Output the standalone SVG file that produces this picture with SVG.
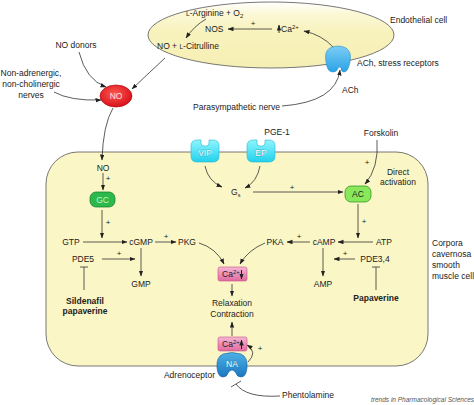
<svg xmlns="http://www.w3.org/2000/svg" width="474" height="405" viewBox="0 0 474 405">
<defs>
<style>
text{font-family:"Liberation Sans",Arial,sans-serif;font-size:8.5px;fill:#222}
.c{text-anchor:middle}
.r{text-anchor:end}
.b{font-weight:bold}
.p{font-size:8px;text-anchor:middle}
.ln{fill:none;stroke:#333;stroke-width:0.8}
.ar{marker-end:url(#ah)}
.w{fill:#fff;stroke:#0b7f98;stroke-width:0.35;paint-order:stroke}
</style>
<marker id="ah" markerUnits="userSpaceOnUse" markerWidth="6" markerHeight="5" refX="5.5" refY="2.2" orient="auto"><path d="M0,0 L6,2.2 L0,4.4 z" fill="#222"/></marker>
<linearGradient id="eg" x1="0" y1="0" x2="0" y2="1"><stop offset="0" stop-color="#ffffff"/><stop offset="0.18" stop-color="#fbf8d6"/><stop offset="0.45" stop-color="#f8f2bd"/><stop offset="1" stop-color="#f6efb4"/></linearGradient>
<linearGradient id="cg" x1="0" y1="0" x2="0" y2="1"><stop offset="0" stop-color="#8ff6ff"/><stop offset="1" stop-color="#22d0ec"/></linearGradient>
<linearGradient id="bg" x1="0" y1="0" x2="0" y2="1"><stop offset="0" stop-color="#7ccdf6"/><stop offset="1" stop-color="#2aa3e6"/></linearGradient>
<linearGradient id="ng" x1="0" y1="0" x2="0" y2="1"><stop offset="0" stop-color="#4fb0e6"/><stop offset="1" stop-color="#1b78c0"/></linearGradient>
<linearGradient id="pg" x1="0" y1="0" x2="0" y2="1"><stop offset="0" stop-color="#f6b6d2"/><stop offset="1" stop-color="#e06a9e"/></linearGradient>
<radialGradient id="rg" cx="0.45" cy="0.4" r="0.6"><stop offset="0" stop-color="#ff5a50"/><stop offset="1" stop-color="#d8101c"/></radialGradient>
</defs>

<g id="endothelial-cell">
<ellipse cx="271" cy="35" rx="123" ry="33" fill="url(#eg)" stroke="#555" stroke-width="0.8"/>
<text x="390" y="23">Endothelial cell</text>
</g>
<g id="muscle-cell">
<rect x="46" y="152" width="382" height="214" rx="32" fill="#faf6c6" stroke="#555" stroke-width="0.8"/>
<text x="432" y="246">Corpora</text>
<text x="432" y="257">cavernosa</text>
<text x="432" y="268">smooth</text>
<text x="432" y="279">muscle cell</text>
</g>

<g id="connectors">
<path class="ln ar" d="M206,19 Q194,26 186,38"/>
<path class="ln ar" d="M272,29 L228,29"/>
<path class="ln ar" d="M333,47 Q322,35 304,31"/>
<path class="ln ar" d="M282,106 Q336,102 340,70"/>
<path class="ln ar" d="M165,58 Q150,72 132,89"/>
<path class="ln ar" d="M79,52 Q86,80 106,87"/>
<path class="ln ar" d="M54,92 Q70,101 101,100"/>
<path class="ln ar" d="M113,108 Q103,125 102,160"/>
<path class="ln ar" d="M103,173 L103,190"/>
<path class="ln ar" d="M102,210 L102,238"/>
<path class="ln ar" d="M83,242 L127,242"/>
<path class="ln ar" d="M155,242 L176,242"/>
<path class="ln ar" d="M102,259 L135,259"/>
<path class="ln ar" d="M141,248 L141,276"/>
<path class="ln" d="M84,290 L84,267 M80,267 L88,267"/>
<path class="ln ar" d="M199,243 Q216,248 224,264"/>
<path class="ln ar" d="M265,243 Q248,250 240,264"/>
<path class="ln ar" d="M205,166 Q208,181 222,187"/>
<path class="ln ar" d="M260,166 Q257,182 245,188"/>
<path class="ln ar" d="M253,192 L343,192"/>
<path class="ln ar" d="M377,140 Q379,168 365,184"/>
<path class="ln ar" d="M358,204 L358,238"/>
<path class="ln ar" d="M373,242 L338,242"/>
<path class="ln ar" d="M310,242 L287,242"/>
<path class="ln ar" d="M355,259 L334,259"/>
<path class="ln ar" d="M323,248 L323,276"/>
<path class="ln" d="M376,290 L376,267 M372,267 L380,267"/>
<path class="ln ar" d="M232,284 L232,296"/>
<path class="ln ar" d="M232,336 L232,322"/>
<path class="ln ar" d="M248,362 Q258,352 247,345"/>
<path class="ln" d="M280,396 Q246,398 236,384 M231,387 L241,381"/>
</g>

<g id="labels">
<text x="186" y="16"><tspan font-size="6.5">L</tspan>-Arginine + O<tspan font-size="6" dy="2">2</tspan></text>
<text x="205" y="32">NOS</text>
<text x="157" y="49">NO + <tspan font-size="6.5">L</tspan>-Citrulline</text>
<text x="193" y="110">Parasympathetic nerve</text>
<text x="342" y="93">ACh</text>
<text x="357" y="66">ACh, stress receptors</text>
<text x="76" y="48" class="c">NO donors</text>
<text x="31" y="76" class="c">Non-adrenergic,</text>
<text x="31" y="87" class="c">non-cholinergic</text>
<text x="31" y="98" class="c">nerves</text>
<text x="103" y="171" class="c">NO</text>
<text x="277" y="135" class="c">PGE-1</text>
<text x="381" y="136" class="c">Forskolin</text>
<text x="398" y="175" class="c">Direct</text>
<text x="398" y="185" class="c">activation</text>
<text x="231" y="195">G<tspan font-size="5.5" dy="2">s</tspan></text>
<text x="71" y="245" class="c">GTP</text>
<text x="141" y="245" class="c">cGMP</text>
<text x="187" y="245" class="c">PKG</text>
<text x="83" y="262" class="c">PDE5</text>
<text x="141" y="287" class="c">GMP</text>
<text x="85" y="304" class="c b">Sildenafil</text>
<text x="85" y="314" class="c b">papaverine</text>
<text x="384" y="245" class="c">ATP</text>
<text x="324" y="245" class="c">cAMP</text>
<text x="275" y="245" class="c">PKA</text>
<text x="375" y="262" class="c">PDE3,4</text>
<text x="323" y="287" class="c">AMP</text>
<text x="376" y="301" class="c b">Papaverine</text>
<text x="232" y="306" class="c">Relaxation</text>
<text x="232" y="317" class="c">Contraction</text>
<text x="215" y="378" class="r">Adrenoceptor</text>
<text x="282" y="398">Phentolamine</text>
<text x="474" y="402" class="r" style="font-size:6.5px;font-style:italic;fill:#555">trends in Pharmacological Sciences</text>
<text x="253" y="26" class="p">+</text>
<text x="292" y="190" class="p">+</text>
<text x="367" y="165" class="p">+</text>
<text x="364" y="224" class="p">+</text>
<text x="299" y="239" class="p">+</text>
<text x="345" y="256" class="p">+</text>
<text x="108" y="181" class="p">+</text>
<text x="108" y="225" class="p">+</text>
<text x="166" y="239" class="p">+</text>
<text x="119" y="256" class="p">+</text>
<text x="260" y="351" class="p">+</text>
</g>

<g id="ca-up-endo">
<path d="M279,33 L279,25" stroke="#222" stroke-width="0.9" marker-end="url(#ah)"/>
<text x="281" y="32">Ca<tspan font-size="6" dy="-3">2+</tspan></text>
</g>

<g id="ach-receptor">
<path d="M330,48 Q338,44 346,48 Q352,52 350,62 Q348,72 344,72 Q341,72 341,68 Q340,66 338,68 Q337,72 333,72 Q327,72 326,62 Q324,51 330,48 z" fill="url(#bg)" stroke="#2a8fc8" stroke-width="0.6"/>
</g>

<g id="no-red">
<ellipse cx="116" cy="96" rx="16" ry="11" fill="url(#rg)" stroke="#a00" stroke-width="0.6"/>
<text x="116" y="99" class="c" style="fill:#ffe0e0">NO</text>
</g>

<g id="vip">
<path d="M191,146 q0,-6 6,-6 h4 v3 q0,3 3,3 h2 q3,0 3,-3 v-3 h4 q6,0 6,6 v10 q0,6 -6,6 h-16 q-6,0 -6,-6 z" fill="url(#cg)" stroke="#22b8d0" stroke-width="0.6"/>
<text x="205" y="156" class="c w">VIP</text>
</g>
<g id="ep">
<path d="M247,146 q0,-6 6,-6 h4 v3 q0,3 3,3 h2 q3,0 3,-3 v-3 h4 q6,0 6,6 v10 q0,6 -6,6 h-16 q-6,0 -6,-6 z" fill="url(#cg)" stroke="#22b8d0" stroke-width="0.6"/>
<text x="261" y="156" class="c w">EP</text>
</g>

<g id="gc">
<rect x="90" y="192" width="25" height="15" rx="6" fill="#2cb84a" stroke="#137a2a" stroke-width="0.7"/>
<text x="102.5" y="203" class="c" style="fill:#c8f5c8">GC</text>
</g>
<g id="ac">
<rect x="345" y="186" width="26" height="16" rx="6" fill="#88e85a" stroke="#2a8a1a" stroke-width="0.7"/>
<text x="358" y="197" class="c">AC</text>
</g>

<g id="ca-down">
<rect x="218" y="267" width="29" height="14" rx="2" fill="url(#pg)" stroke="#c4508a" stroke-width="0.6"/>
<text x="222" y="277">Ca<tspan font-size="6" dy="-3">2+</tspan></text>
<path d="M241.5,270 L241.5,279" stroke="#222" stroke-width="1" marker-end="url(#ah)"/>
</g>
<g id="ca-up">
<rect x="218" y="337" width="29" height="14" rx="2" fill="url(#pg)" stroke="#c4508a" stroke-width="0.6"/>
<text x="222" y="347">Ca<tspan font-size="6" dy="-3">2+</tspan></text>
<path d="M241.5,349 L241.5,340" stroke="#222" stroke-width="1" marker-end="url(#ah)"/>
</g>

<g id="na-receptor">
<path d="M223,354 Q232,351 241,354 Q248,357 247,368 Q246,377 241,377 Q237,377 236,373 Q234,370 232,370 Q230,370 228,373 Q227,377 223,377 Q218,377 217,368 Q216,357 223,354 z" fill="url(#ng)" stroke="#15609a" stroke-width="0.6"/>
<text x="232" y="367" class="c w">NA</text>
</g>
</svg>
